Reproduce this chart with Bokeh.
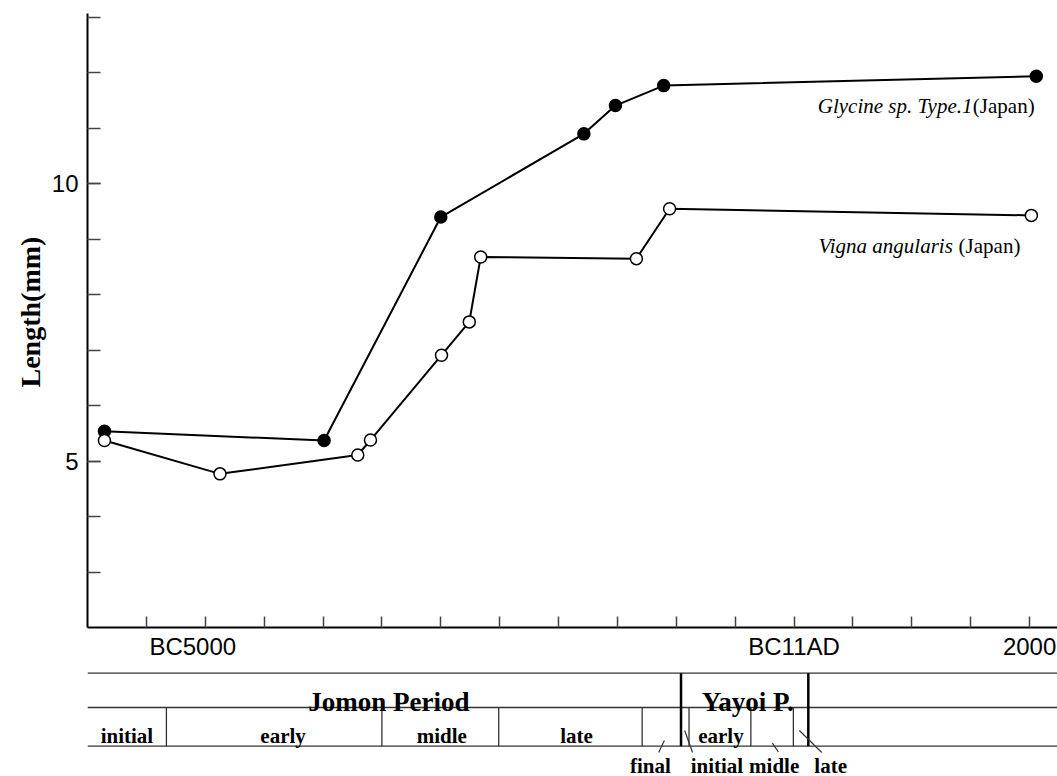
from bokeh.plotting import figure
from bokeh.models import FixedTicker, Range1d, ColumnDataSource, Title
from bokeh.layouts import column
from bokeh.embed import file_html
from bokeh.resources import INLINE
from bokeh.core.properties import value

# ---------------- data ----------------
glycine_year = [-5856, -3991, -3000, -1785, -1517, -1107, 2057]
glycine_len = [5.54, 5.37, 9.40, 10.90, 11.41, 11.77, 11.94]

vigna_year = [-5856, -4875, -3705, -3597, -2994, -2758, -2661, -1339, -1057, 2015]
vigna_len = [5.37, 4.77, 5.11, 5.38, 6.91, 7.51, 8.68, 8.65, 9.55, 9.43]

x_minor_ticks = list(range(-5500, 2001, 500))
x_label_pos = [-5106, 0, 2000]
x_labels = ["BC5000", "BC11AD", "2000"]
y_major_ticks = [5, 10]
y_minor_ticks = list(range(3, 14))

# period table (years)
jomon_sub_bounds = [-5330, -3500, -2508, -1290]
yayoi_bounds = [-960, 121]
yayoi_sub_bounds = [-892, -367, -6]

period_names = ["Jomon Period", "Yayoi P."]
period_centers = [-3440, -394]
sub_names = ["initial", "early", "midle", "late", "early"]
sub_centers = [-5665, -4339, -2991, -1847, -621]
small_names = ["final", "initial", "midle", "late"]
small_centers = [-1220, -655, -169, 311]
leader_x0 = [-1150, -862, -133, 235]
leader_x1 = [-1101, -929, -184, 45]

X0, X1 = -6000, 2237
SERIF = value("Liberation Serif")
SANS = "Liberation Sans"

# ---------------- main plot ----------------
p = figure(width=1057, height=667, x_range=Range1d(X0, X1), y_range=Range1d(2, 13.07),
           output_backend="svg", toolbar_location=None,
           min_border_left=87, min_border_right=0, min_border_top=13, min_border_bottom=40)
p.grid.visible = False
p.outline_line_color = None
p.background_fill_color = "white"

p.xaxis.ticker = FixedTicker(ticks=x_label_pos, minor_ticks=x_minor_ticks)
p.xaxis.major_label_overrides = {pos: lab for pos, lab in zip(x_label_pos, x_labels)}
p.xaxis.major_tick_in = 0
p.xaxis.major_tick_out = 0
p.xaxis.minor_tick_in = 11
p.xaxis.minor_tick_out = 0
p.xaxis.major_label_standoff = 5

p.yaxis.ticker = FixedTicker(ticks=y_major_ticks, minor_ticks=y_minor_ticks)
p.yaxis.major_tick_in = 13
p.yaxis.major_tick_out = 0
p.yaxis.minor_tick_in = 13
p.yaxis.minor_tick_out = 0
p.yaxis.major_label_standoff = 9

for ax in (p.xaxis, p.yaxis):
    ax.axis_line_width = 2
    ax.axis_line_color = "black"
    ax.major_tick_line_color = "#444444"
    ax.minor_tick_line_color = "#444444"
    ax.major_tick_line_width = 1.5
    ax.minor_tick_line_width = 1.5
    ax.major_label_text_font = SANS
    ax.major_label_text_font_size = "24px"
    ax.major_label_text_color = "black"

# y-axis title as a side title (start-aligned so it can be offset along the axis)
p.add_layout(Title(text="Length(mm)", align="left", offset=240, standoff=6,
                   text_font="Liberation Serif", text_font_style="bold",
                   text_font_size="28px", text_color="black"), "left")

gsrc = ColumnDataSource(dict(x=glycine_year, y=glycine_len))
vsrc = ColumnDataSource(dict(x=vigna_year, y=vigna_len))
p.line("x", "y", source=gsrc, line_color="black", line_width=2)
p.line("x", "y", source=vsrc, line_color="black", line_width=2)
p.scatter("x", "y", source=gsrc, size=12, fill_color="black", line_color="black", line_width=1.5)
p.scatter("x", "y", source=vsrc, size=12, fill_color="white", line_color="black", line_width=1.5)

# series labels
p.text(x=[1515, 1348], y=[11.41, 8.88], text=["Glycine sp. Type.1", "Vigna angularis"],
       text_font=SERIF, text_font_style="italic", text_font_size="21px",
       text_align="right", text_baseline="alphabetic", text_color="black")
p.text(x=[2043, 1922], y=[11.41, 8.88], text=["(Japan)", "(Japan)"],
       text_font=SERIF, text_font_style="normal", text_font_size="21px",
       text_align="right", text_baseline="alphabetic", text_color="black")

# ---------------- period table ----------------
t = figure(width=1057, height=109, x_range=p.x_range, y_range=Range1d(109, 0),
           output_backend="svg", toolbar_location=None,
           min_border_left=87, min_border_right=0, min_border_top=0, min_border_bottom=0)
t.axis.visible = False
t.grid.visible = False
t.outline_line_color = None

row_top, row_mid, row_bot = 5.7, 40, 78.7
t.segment(x0=[X0] * 3, x1=[X1] * 3, y0=[row_top, row_mid, row_bot], y1=[row_top, row_mid, row_bot],
          line_color="#333333", line_width=1.3)
t.segment(x0=jomon_sub_bounds + yayoi_sub_bounds, x1=jomon_sub_bounds + yayoi_sub_bounds,
          y0=[row_mid] * 7, y1=[row_bot] * 7, line_color="#333333", line_width=1.3)
t.segment(x0=yayoi_bounds, x1=yayoi_bounds, y0=[row_top] * 2, y1=[row_bot] * 2,
          line_color="black", line_width=2.5)

t.text(x=period_centers, y=[34, 34], text=period_names, text_font=SERIF, text_font_style="bold",
       text_font_size="27px", text_align="center", text_baseline="alphabetic", text_color="black")
t.text(x=sub_centers, y=[68] * 5, text=sub_names, text_font=SERIF, text_font_style="bold",
       text_font_size="21px", text_align="center", text_baseline="alphabetic", text_color="black")
t.text(x=small_centers, y=[98] * 4, text=small_names, text_font=SERIF, text_font_style="bold",
       text_font_size="21px", text_align="center", text_baseline="alphabetic", text_color="black")
t.segment(x0=leader_x0, x1=leader_x1, y0=[85, 85, 84.5, 85], y1=[73, 63, 75.7, 63],
          line_color="#333333", line_width=1.2)

layout = column(p, t, spacing=0)
open("out.html", "w").write(file_html(layout, INLINE))
